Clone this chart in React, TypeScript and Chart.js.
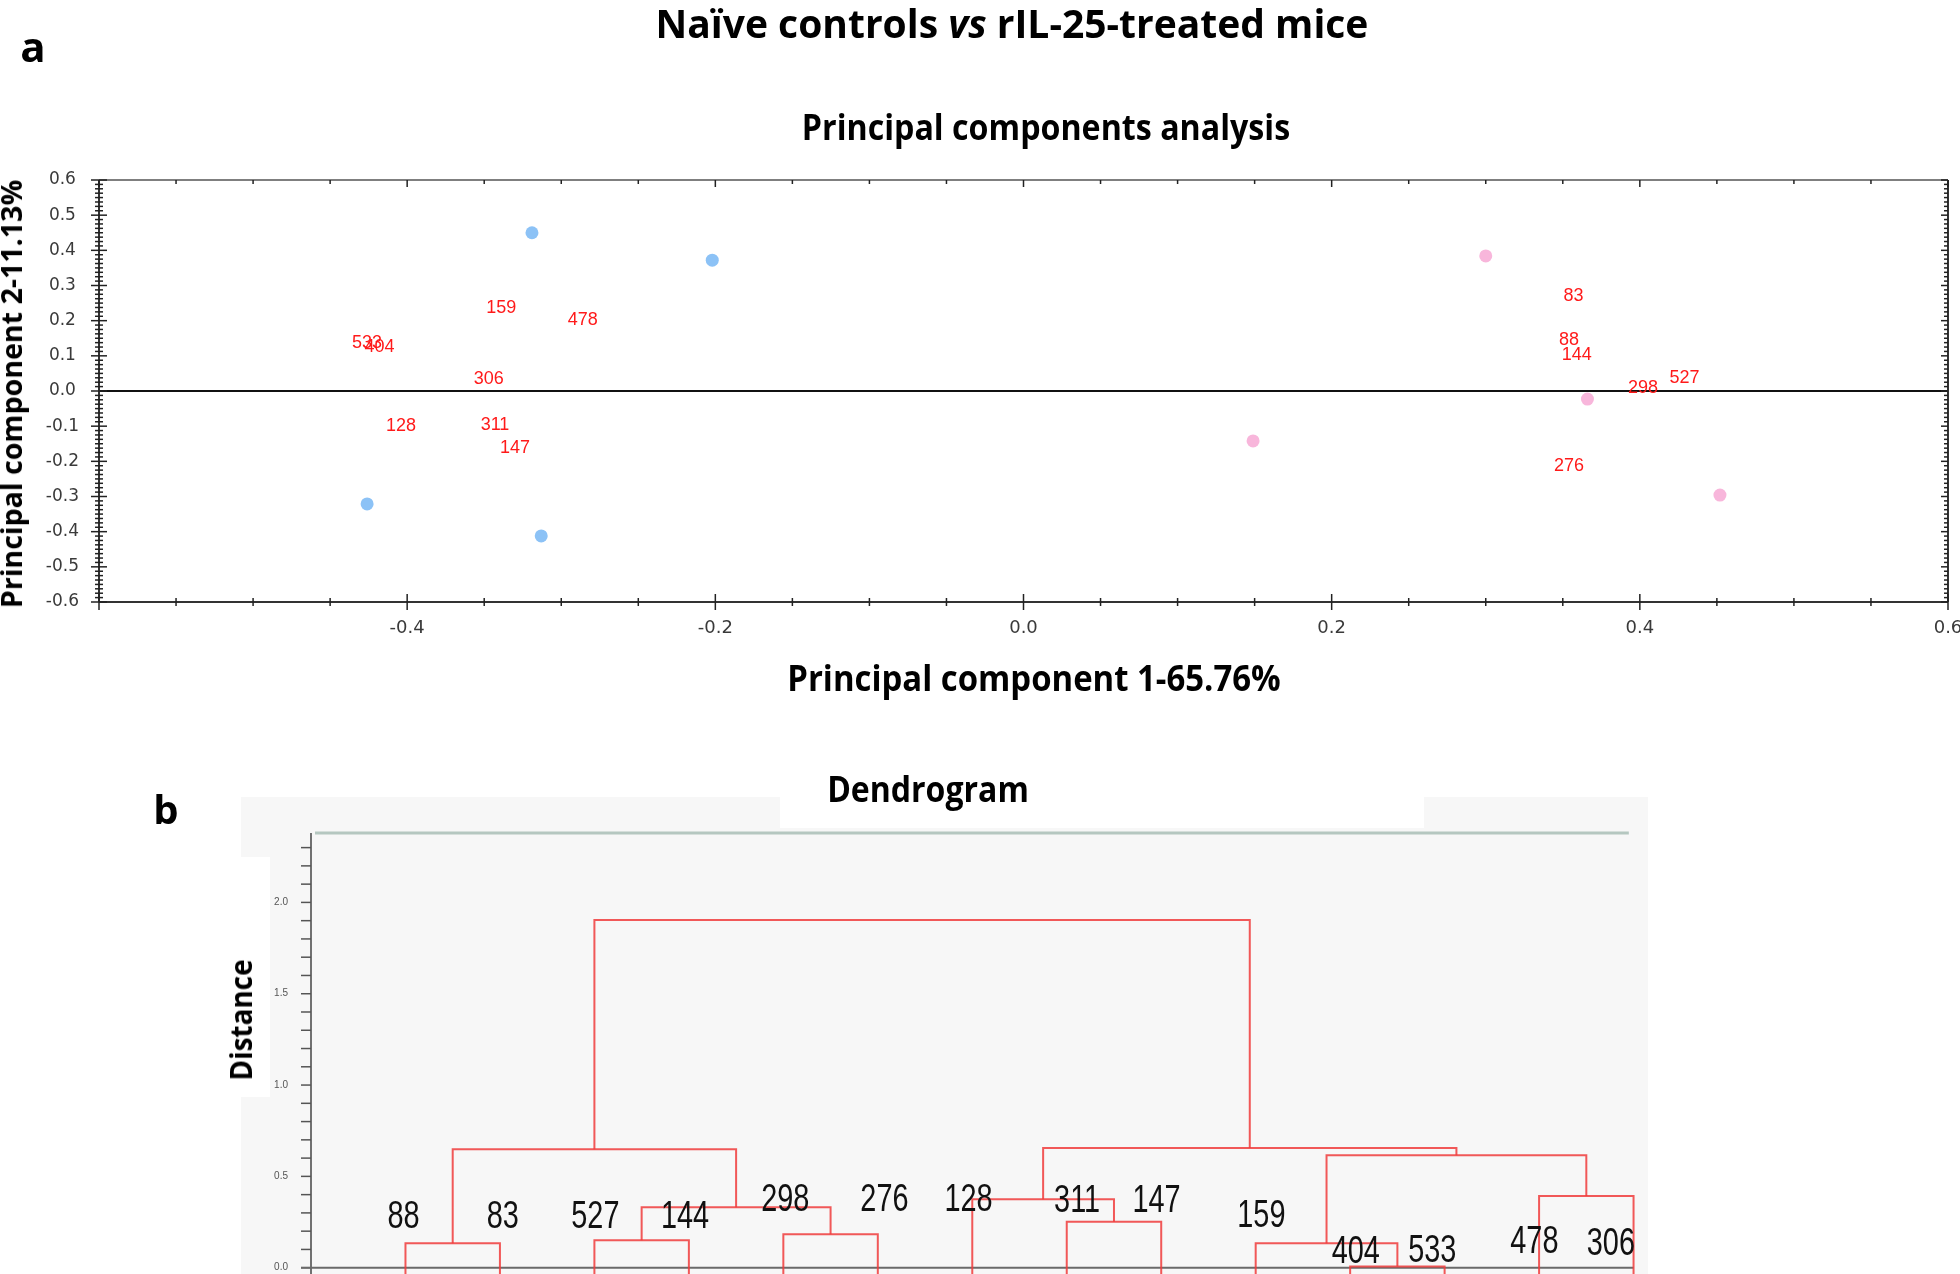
import React, { useEffect, useRef } from 'react';
import { Chart, registerables } from 'chart.js';

Chart.register(...registerables);

// ---------------- PCA (panel a) ----------------
const naiveX = [-0.319, -0.202, -0.426, -0.313];
const naiveY = [0.45, 0.372, -0.321, -0.412];
const treatedX = [0.3, 0.149, 0.366, 0.452];
const treatedY = [0.384, -0.142, -0.023, -0.296];

const pcaIds = ['159', '478', '533', '404', '306', '128', '311', '147', '83', '88', '144', '298', '527', '276'];
const pcaIdX = [-0.339, -0.286, -0.426, -0.418, -0.347, -0.404, -0.343, -0.33, 0.357, 0.354, 0.359, 0.402, 0.429, 0.354];
const pcaIdY = [0.237, 0.201, 0.135, 0.125, 0.033, -0.1, -0.097, -0.162, 0.27, 0.145, 0.102, 0.009, 0.037, -0.213];

const pcaMin = -0.6;
const pcaMax = 0.6;

// ---------------- Dendrogram (panel b) ----------------
const leafNames = ['88', '83', '527', '144', '298', '276', '128', '311', '147', '159', '404', '533', '478', '306'];
// merges: node ids 0..13 are leaves, merge i creates node 14+i
const mergeA = [0, 2, 4, 15, 14, 7, 6, 10, 9, 12, 22, 20, 18];
const mergeB = [1, 3, 5, 16, 17, 8, 19, 11, 21, 13, 23, 24, 25];
const mergeH = [0.134, 0.15, 0.183, 0.331, 0.648, 0.252, 0.375, 0.006, 0.134, 0.393, 0.616, 0.655, 1.904];
const leafLabelX = [-0.02, 1.03, 2.01, 2.96, 4.02, 5.07, 5.96, 7.11, 7.95, 9.06, 10.06, 10.87, 11.95, 12.76];
const leafLabelY = [0.29, 0.29, 0.29, 0.29, 0.387, 0.387, 0.387, 0.377, 0.377, 0.3, 0.102, 0.108, 0.157, 0.144];

const distMin = -0.0345;
const distMax = 2.38;

const SANS = "'Liberation Sans', Arial, sans-serif";
const TICK = "'DejaVu Sans', Verdana, sans-serif";
const BOLD = "'Open Sans', 'Noto Sans', sans-serif";

function buildDendroDatasets() {
  const nodeX: number[] = leafNames.map((_, i) => i);
  const nodeH: number[] = leafNames.map(() => -0.2);
  const sets: any[] = [];
  mergeA.forEach((a, i) => {
    const b = mergeB[i];
    const h = mergeH[i];
    sets.push({
      data: [
        { x: nodeX[a], y: nodeH[a] },
        { x: nodeX[a], y: h },
        { x: nodeX[b], y: h },
        { x: nodeX[b], y: nodeH[b] },
      ],
      showLine: true,
      borderColor: 'rgba(240,60,60,0.85)',
      borderWidth: 2,
      pointRadius: 0,
      tension: 0,
    });
    nodeX.push((nodeX[a] + nodeX[b]) / 2);
    nodeH.push(h);
  });
  return sets;
}

function seg(ctx: CanvasRenderingContext2D, x1: number, y1: number, x2: number, y2: number) {
  ctx.beginPath();
  ctx.moveTo(x1, y1);
  ctx.lineTo(x2, y2);
  ctx.stroke();
}

const pcaPlugin = {
  id: 'pcaFrame',
  beforeDatasetsDraw(chart: any) {
    const { ctx, chartArea: a, scales } = chart;
    const xs = scales.x;
    const ys = scales.y;
    ctx.save();
    // zero line
    const y0 = ys.getPixelForValue(0);
    ctx.strokeStyle = '#111';
    ctx.lineWidth = 2;
    seg(ctx, a.left, y0, a.right, y0);
    // frame
    ctx.strokeStyle = '#333';
    ctx.lineWidth = 2;
    seg(ctx, a.left, a.top, a.left, a.bottom);
    seg(ctx, a.right, a.top, a.right, a.bottom);
    seg(ctx, a.left, a.bottom, a.right, a.bottom);
    ctx.strokeStyle = '#555';
    ctx.lineWidth = 1.5;
    seg(ctx, a.left, a.top, a.right, a.top);
    // x ticks
    ctx.strokeStyle = '#222';
    ctx.lineWidth = 1.5;
    for (let k = 0; k <= 24; k++) {
      const px = xs.getPixelForValue(pcaMin + k * 0.05);
      const major = k % 4 === 0;
      const L = major ? 8 : 4;
      seg(ctx, px, a.bottom - L, px, a.bottom + L);
      seg(ctx, px, a.top, px, a.top + (major ? 7 : 4));
    }
    // y ticks
    for (let k = 0; k <= 96; k++) {
      const py = ys.getPixelForValue(pcaMin + k * 0.0125);
      const major = k % 8 === 0;
      const L = major ? 8 : 4;
      seg(ctx, a.left - L, py, a.left + L, py);
      seg(ctx, a.right - (major ? 7 : 4), py, a.right, py);
    }
    ctx.restore();
  },
  afterDatasetsDraw(chart: any) {
    const { ctx, scales } = chart;
    ctx.save();
    ctx.fillStyle = '#ff1a1a';
    ctx.font = `18px ${SANS}`;
    ctx.textAlign = 'center';
    ctx.textBaseline = 'middle';
    pcaIds.forEach((id, i) => {
      ctx.fillText(id, scales.x.getPixelForValue(pcaIdX[i]), scales.y.getPixelForValue(pcaIdY[i]));
    });
    ctx.restore();
  },
};

const dendroPlugin = {
  id: 'dendroFrame',
  beforeDatasetsDraw(chart: any) {
    const { ctx, chartArea: a, scales } = chart;
    const ys = scales.y;
    const xs = scales.x;
    ctx.save();
    // top border line
    ctx.strokeStyle = '#b5c7c0';
    ctx.lineWidth = 3;
    seg(ctx, a.left + 4, a.top, xs.getPixelForValue(12.95), a.top);
    // y axis
    ctx.strokeStyle = '#444';
    ctx.lineWidth = 1.5;
    seg(ctx, a.left, a.top, a.left, a.bottom);
    // ticks every 0.1
    ctx.strokeStyle = '#555';
    for (let k = 0; k <= 23; k++) {
      const py = ys.getPixelForValue(k * 0.1);
      seg(ctx, a.left - 10, py, a.left, py);
    }
    // baseline at 0
    const y0 = ys.getPixelForValue(0);
    ctx.strokeStyle = '#6a6a6a';
    ctx.lineWidth = 2;
    seg(ctx, a.left - 10, y0, xs.getPixelForValue(13.0), y0);
    ctx.restore();
  },
  afterDatasetsDraw(chart: any) {
    const { ctx, scales } = chart;
    ctx.save();
    ctx.fillStyle = '#111';
    const fs = 38;
    ctx.font = `${fs}px ${SANS}`;
    ctx.textAlign = 'center';
    ctx.textBaseline = 'alphabetic';
    const sx = 0.76;
    leafNames.forEach((name, i) => {
      const px = scales.x.getPixelForValue(leafLabelX[i]);
      const py = scales.y.getPixelForValue(leafLabelY[i]) + 0.358 * fs;
      ctx.save();
      ctx.translate(px, py);
      ctx.scale(sx, 1);
      ctx.fillText(name, 0, 0);
      ctx.restore();
    });
    ctx.restore();
  },
};

function PcaChart() {
  const ref = useRef<HTMLCanvasElement | null>(null);
  useEffect(() => {
    if (!ref.current) return;
    const chart = new Chart(ref.current, {
      type: 'scatter',
      data: {
        datasets: [
          {
            label: 'Naive',
            data: naiveX.map((x, i) => ({ x, y: naiveY[i] })),
            backgroundColor: '#8cc2f6',
            borderWidth: 0,
            pointRadius: 6.5,
          },
          {
            label: 'rIL-25',
            data: treatedX.map((x, i) => ({ x, y: treatedY[i] })),
            backgroundColor: '#f8b6db',
            borderWidth: 0,
            pointRadius: 6.5,
          },
        ],
      },
      options: {
        animation: false,
        responsive: false,
        devicePixelRatio: 1,
        layout: { padding: { left: 0, right: 12, top: 180, bottom: 0 } },
        plugins: { legend: { display: false }, tooltip: { enabled: false }, title: { display: false } },
        scales: {
          x: {
            type: 'linear',
            min: pcaMin,
            max: pcaMax,
            grid: { display: false, drawTicks: false },
            border: { display: false },
            ticks: {
              stepSize: 0.2,
              padding: 16,
              color: '#3a3a3a',
              font: { family: TICK, size: 18 },
              maxRotation: 0,
              autoSkip: false,
              callback: (v: any) => {
                const n = Number(v);
                if (Math.abs(n - pcaMin) < 1e-6) return '';
                return (Math.abs(n) < 1e-9 ? 0 : n).toFixed(1);
              },
            },
            afterFit: (s: any) => {
              s.height = 98;
              s.paddingLeft = 0;
              s.paddingRight = 0;
            },
          },
          y: {
            type: 'linear',
            min: pcaMin,
            max: pcaMax,
            grid: { display: false, drawTicks: false },
            border: { display: false },
            ticks: {
              stepSize: 0.1,
              padding: 20,
              crossAlign: 'center',
              color: '#3a3a3a',
              font: { family: TICK, size: 17 },
              autoSkip: false,
              includeBounds: false,
              callback: (v: any) => {
                const n = Number(v);
                return (Math.abs(n) < 1e-9 ? 0 : n).toFixed(1);
              },
            },
            afterFit: (s: any) => {
              s.width = 99;
              s.paddingTop = 0;
              s.paddingBottom = 0;
            },
          },
        },
      },
      plugins: [pcaPlugin],
    } as any);
    return () => chart.destroy();
  }, []);
  return (
    <canvas
      ref={ref}
      width={1960}
      height={700}
      style={{ position: 'absolute', left: 0, top: 0, width: 1960, height: 700 }}
    />
  );
}

function DendroChart() {
  const ref = useRef<HTMLCanvasElement | null>(null);
  useEffect(() => {
    if (!ref.current) return;
    const chart = new Chart(ref.current, {
      type: 'scatter',
      data: { datasets: buildDendroDatasets() },
      options: {
        animation: false,
        responsive: false,
        devicePixelRatio: 1,
        layout: { padding: { left: 0, right: 317, top: 53, bottom: 0 } },
        plugins: { legend: { display: false }, tooltip: { enabled: false }, title: { display: false } },
        scales: {
          x: {
            type: 'linear',
            min: -1,
            max: 13.1,
            display: false,
          },
          y: {
            type: 'linear',
            min: distMin,
            max: distMax,
            grid: { display: false, drawTicks: false },
            border: { display: false },
            ticks: {
              stepSize: 0.5,
              padding: 23,
              crossAlign: 'center',
              color: '#555',
              font: { family: SANS, size: 10 },
              includeBounds: false,
              autoSkip: false,
              callback: (v: any) => {
                const n = Number(v);
                return (Math.abs(n) < 1e-9 ? 0 : n).toFixed(1);
              },
            },
            afterFit: (s: any) => {
              s.width = 311;
              s.paddingTop = 0;
              s.paddingBottom = 0;
            },
          },
        },
      },
      plugins: [dendroPlugin],
    } as any);
    return () => chart.destroy();
  }, []);
  return (
    <canvas
      ref={ref}
      width={1960}
      height={494}
      style={{ position: 'absolute', left: 0, top: 780, width: 1960, height: 494 }}
    />
  );
}

type TextProps = {
  children: React.ReactNode;
  cx: number;
  baseline: number;
  size: number;
  sx?: number;
};

function HText({ children, cx, baseline, size, sx = 1 }: TextProps) {
  return (
    <div
      style={{
        position: 'absolute',
        left: cx,
        top: baseline - 0.888 * size,
        transform: `translateX(-50%) scaleX(${sx})`,
        fontFamily: BOLD,
        fontWeight: 700,
        fontSize: size,
        lineHeight: 1,
        whiteSpace: 'nowrap',
        color: '#000',
      }}
    >
      {children}
    </div>
  );
}

function VText({ children, cx, cy, size, sx = 1 }: { children: React.ReactNode; cx: number; cy: number; size: number; sx?: number }) {
  return (
    <div
      style={{
        position: 'absolute',
        left: cx,
        top: cy,
        transform: `translate(-50%, -50%) rotate(-90deg) scaleX(${sx})`,
        fontFamily: BOLD,
        fontWeight: 700,
        fontSize: size,
        lineHeight: 1,
        whiteSpace: 'nowrap',
        color: '#000',
      }}
    >
      {children}
    </div>
  );
}

export default function App() {
  return (
    <div
      style={{
        position: 'fixed',
        left: 0,
        top: 0,
        width: 1960,
        height: 1274,
        background: '#fff',
        overflow: 'hidden',
      }}
    >
      {/* dendrogram panel background */}
      <div style={{ position: 'absolute', left: 241, top: 797, width: 1407, height: 477, background: '#f7f7f7' }} />
      <div style={{ position: 'absolute', left: 780, top: 797, width: 644, height: 31, background: '#fff' }} />
      <div style={{ position: 'absolute', left: 241, top: 857, width: 29, height: 240, background: '#fff' }} />

      <PcaChart />
      <DendroChart />

      <HText cx={33} baseline={62} size={42}>a</HText>
      <HText cx={1012} baseline={37.3} size={39}>
        Naïve controls <span style={{ fontStyle: 'italic' }}>vs</span> rIL-25-treated mice
      </HText>
      <HText cx={1045.5} baseline={140} size={35} sx={0.92}>Principal components analysis</HText>
      <VText cx={11} cy={394} size={28} sx={1.02}>Principal component 2-11.13%</VText>
      <HText cx={1034} baseline={691} size={35} sx={0.94}>Principal component 1-65.76%</HText>

      <HText cx={166} baseline={825} size={40}>b</HText>
      <HText cx={927.5} baseline={802} size={35} sx={0.915}>Dendrogram</HText>
      <VText cx={241} cy={1020} size={30} sx={0.93}>Distance</VText>
    </div>
  );
}
